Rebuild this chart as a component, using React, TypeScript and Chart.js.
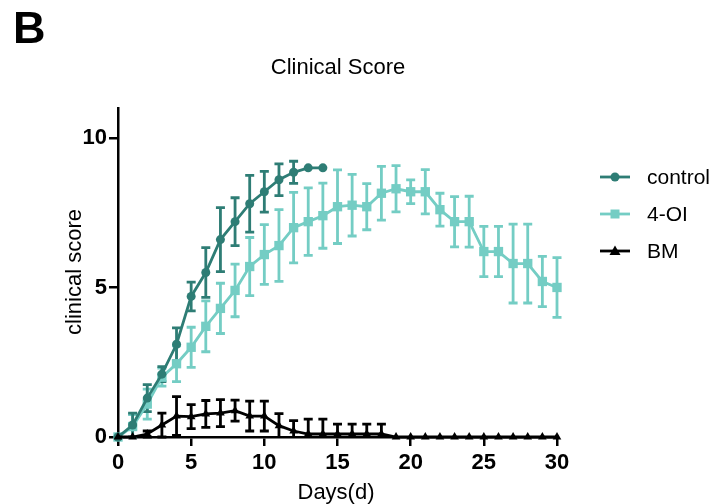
import React, { useEffect, useRef } from "react";
import { Chart, registerables } from "chart.js";

Chart.register(...registerables);

const days = Array.from({ length: 31 }, (_, i) => i);

const controlValues = [0, 0.4, 1.3, 2.1, 3.1, 4.7, 5.5, 6.6, 7.2, 7.8, 8.2, 8.6, 8.85, 9.0, 9.0];
const controlErr = [0, 0.4, 0.45, 0.25, 0.55, 0.48, 0.83, 1.07, 0.8, 0.95, 0.68, 0.53, 0.37, 0, 0];

const oiValues = [0, 0.35, 1.1, 2.0, 2.45, 3.0, 3.7, 4.3, 4.9, 5.7, 6.1, 6.4, 7.0, 7.2, 7.4, 7.7, 7.75, 7.7, 8.15, 8.3, 8.2, 8.2, 7.6, 7.2, 7.2, 6.2, 6.2, 5.8, 5.8, 5.2, 5.0];
const oiErr = [0, 0.4, 0.5, 0.3, 0.6, 0.67, 0.85, 0.84, 0.88, 0.97, 1.0, 1.2, 1.18, 1.13, 1.09, 1.23, 1.03, 0.77, 0.9, 0.77, 0.4, 0.74, 0.55, 0.84, 0.85, 0.84, 0.84, 1.32, 1.32, 0.84, 1.0];

const bmValues = [0, 0, 0.1, 0.4, 0.7, 0.68, 0.77, 0.8, 0.88, 0.7, 0.7, 0.38, 0.2, 0.1, 0.1, 0.1, 0.1, 0.1, 0.1, 0, 0, 0, 0, 0, 0, 0, 0, 0, 0, 0, 0];
const bmErr = [0, 0, 0.1, 0.4, 0.65, 0.4, 0.45, 0.45, 0.35, 0.5, 0.5, 0.4, 0.35, 0.5, 0.5, 0.33, 0.33, 0.33, 0.33, 0, 0, 0, 0, 0, 0, 0, 0, 0, 0, 0, 0];

const yTicks = [0, 5, 10];
const seriesNames = ["control", "4-OI", "BM"];

const CONTROL_COLOR = "#2e7d75";
const OI_COLOR = "#74cdc4";
const BM_COLOR = "#000000";
const FONT = "'Liberation Sans', Arial, sans-serif";

const errors = [controlErr, oiErr, bmErr];

const errorBarPlugin = {
  id: "errorBars",
  beforeDatasetsDraw(chart: any) {
    const ctx = chart.ctx;
    const yScale = chart.scales.y;
    const order = [1, 0, 2];
    order.forEach((di) => {
      const ds = chart.data.datasets[di];
      const meta = chart.getDatasetMeta(di);
      const errs = errors[di];
      ctx.save();
      ctx.strokeStyle = ds.borderColor;
      ctx.lineWidth = 2.8;
      meta.data.forEach((pt: any, i: number) => {
        const v = ds.data[i]?.y;
        const e = errs[i];
        if (v == null || !e) return;
        const x = pt.x;
        const top = yScale.getPixelForValue(v + e);
        const lowVal = v - e;
        const bot = yScale.getPixelForValue(Math.max(0, lowVal));
        ctx.beginPath();
        ctx.moveTo(x, top);
        ctx.lineTo(x, bot);
        ctx.moveTo(x - 4.5, top);
        ctx.lineTo(x + 4.5, top);
        if (lowVal >= 0) {
          ctx.moveTo(x - 4.5, bot);
          ctx.lineTo(x + 4.5, bot);
        }
        ctx.stroke();
      });
      ctx.restore();
    });
  },
};

const textPlugin = {
  id: "texts",
  afterDraw(chart: any) {
    const ctx = chart.ctx;
    ctx.save();
    ctx.fillStyle = "#000";
    // panel letter
    ctx.font = `bold 45px ${FONT}`;
    ctx.textAlign = "left";
    ctx.textBaseline = "alphabetic";
    ctx.fillText("B", 13, 43);
    // title
    ctx.font = `22px ${FONT}`;
    ctx.textAlign = "center";
    ctx.fillText("Clinical Score", 338, 74);
    // x title
    ctx.fillText("Days(d)", 336, 499);
    // y title
    ctx.save();
    ctx.translate(81, 272);
    ctx.rotate(-Math.PI / 2);
    ctx.textAlign = "center";
    ctx.fillText("clinical score", 0, 0);
    ctx.restore();
    // legend
    const rows = [
      { y: 177, color: CONTROL_COLOR, style: "circle" },
      { y: 214, color: OI_COLOR, style: "rect" },
      { y: 251, color: BM_COLOR, style: "triangle" },
    ];
    rows.forEach((r, i) => {
      ctx.strokeStyle = r.color;
      ctx.fillStyle = r.color;
      ctx.lineWidth = 2.8;
      ctx.beginPath();
      ctx.moveTo(600, r.y);
      ctx.lineTo(630, r.y);
      ctx.stroke();
      ctx.beginPath();
      if (r.style === "circle") {
        ctx.arc(615, r.y, 4.5, 0, Math.PI * 2);
      } else if (r.style === "rect") {
        ctx.rect(610.5, r.y - 4.5, 9, 9);
      } else {
        ctx.moveTo(615, r.y - 5.5);
        ctx.lineTo(620.5, r.y + 4);
        ctx.lineTo(609.5, r.y + 4);
        ctx.closePath();
      }
      ctx.fill();
      ctx.fillStyle = "#000";
      ctx.font = `21px ${FONT}`;
      ctx.textAlign = "left";
      ctx.textBaseline = "middle";
      ctx.fillText(seriesNames[i], 647, r.y + 1);
    });
    ctx.restore();
  },
};

function toPoints(vals: number[]) {
  return vals.map((v, i) => ({ x: days[i], y: v }));
}

export default function App() {
  const ref = useRef<HTMLCanvasElement | null>(null);
  useEffect(() => {
    if (!ref.current) return;
    const chart = new Chart(ref.current, {
      type: "line",
      data: {
        datasets: [
          {
            label: seriesNames[0],
            data: toPoints(controlValues),
            borderColor: CONTROL_COLOR,
            backgroundColor: CONTROL_COLOR,
            borderWidth: 2.8,
            pointStyle: "circle",
            pointRadius: 4.5,
            pointBorderWidth: 0,
            tension: 0,
            clip: false as any,
            order: 1,
          },
          {
            label: seriesNames[1],
            data: toPoints(oiValues),
            borderColor: OI_COLOR,
            backgroundColor: OI_COLOR,
            borderWidth: 2.8,
            pointStyle: "rect",
            pointRadius: 6.6,
            pointBorderWidth: 0,
            tension: 0,
            clip: false as any,
            order: 2,
          },
          {
            label: seriesNames[2],
            data: toPoints(bmValues),
            borderColor: BM_COLOR,
            backgroundColor: BM_COLOR,
            borderWidth: 2.8,
            pointStyle: "triangle",
            pointRadius: 5,
            pointBorderWidth: 0,
            tension: 0,
            clip: false as any,
            order: 0,
          },
        ],
      },
      options: {
        responsive: false,
        animation: false,
        layout: { padding: { left: 0, top: 108, right: 162, bottom: 0 } },
        plugins: {
          legend: { display: false },
          title: { display: false },
          tooltip: { enabled: false },
        },
        scales: {
          x: {
            type: "linear",
            min: 0,
            max: 30,
            afterFit(scale: any) {
              scale.height = 67;
            },
            ticks: {
              stepSize: 5,
              color: "#000",
              padding: 4,
              maxRotation: 0,
              font: { family: FONT, size: 22, weight: "bold" },
            },
            grid: {
              display: true,
              drawOnChartArea: false,
              drawTicks: true,
              tickLength: 9,
              color: "#000",
              lineWidth: 2.5,
            },
            border: { display: true, color: "#000", width: 2.5 },
          },
          y: {
            type: "linear",
            min: 0,
            max: 11,
            afterFit(scale: any) {
              scale.width = 118;
            },
            afterBuildTicks(scale: any) {
              scale.ticks = yTicks.map((v) => ({ value: v }));
            },
            ticks: {
              color: "#000",
              padding: 2,
              font: { family: FONT, size: 22, weight: "bold" },
            },
            grid: {
              display: true,
              drawOnChartArea: false,
              drawTicks: true,
              tickLength: 9,
              color: "#000",
              lineWidth: 2.5,
            },
            border: { display: true, color: "#000", width: 2.5 },
          },
        },
      } as any,
      plugins: [errorBarPlugin, textPlugin],
    });
    return () => chart.destroy();
  }, []);
  return (
    <div style={{ position: "fixed", left: 0, top: 0, width: 719, height: 504, background: "#fff" }}>
      <canvas ref={ref} width={719} height={504} style={{ width: 719, height: 504, display: "block" }} />
    </div>
  );
}
